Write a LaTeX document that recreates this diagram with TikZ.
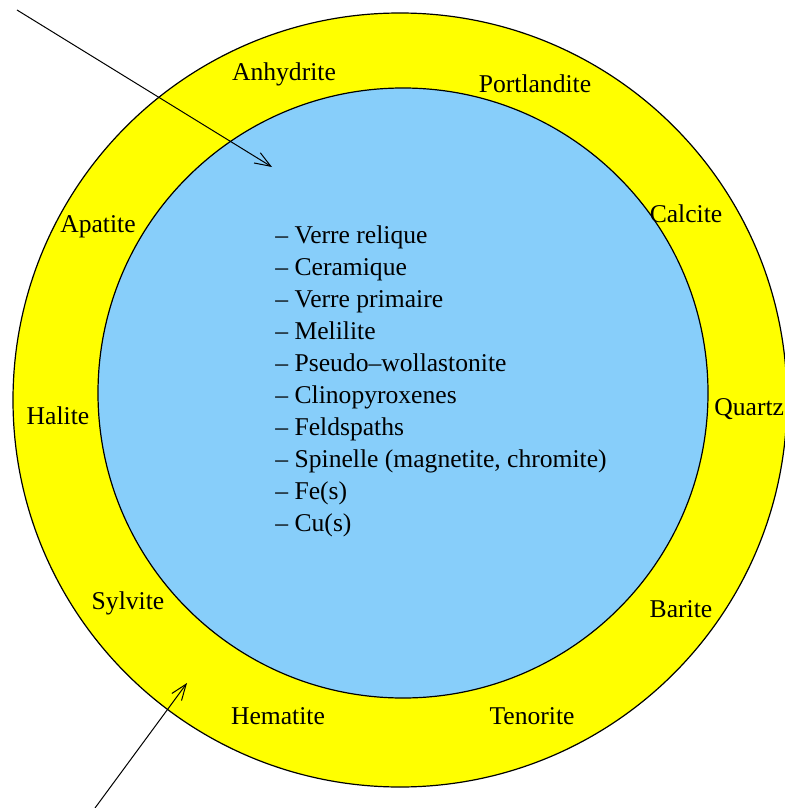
\documentclass[tikz,border=0pt]{standalone}
\usepackage{fontspec}
\setmainfont{Liberation Serif}
\usepackage{tikz}
\usetikzlibrary{arrows.meta}
\usepackage{xcolor}
\definecolor{ringyellow}{HTML}{FFFF00}
\definecolor{coreblue}{HTML}{87CEFA}
\tikzset{
  ring/.style={circle, draw=black, fill=ringyellow, line width=0.6pt, inner sep=0pt},
  core/.style={circle, draw=black, fill=coreblue, line width=0.6pt, inner sep=0pt},
  phase/.style={font=\fontsize{12.8}{16}\selectfont, inner sep=0pt, anchor=base},
  item/.style={font=\fontsize{12.8}{16}\selectfont, inner sep=0pt, anchor=base west},
  pointer/.style={-{Straight Barb[length=8pt,width=6pt]}, line width=0.5pt},
}
\begin{document}
\begin{tikzpicture}[x=0.5pt, y=-0.5pt]
\useasboundingbox (0,0) rectangle (784,808);

% outer and inner zones
\node[ring, minimum size=387pt] (outer) at (400,400) {};
\node[core, minimum size=305pt] (inner) at (403,393) {};

% phases of the outer zone
\node[phase] (anhy) at (284,81) {Anhydrite};
\node[phase] (port) at (535,93) {Portlandite};
\node[phase] (calc) at (686,222) {Calcite};
\node[phase] (apat) at (98,232) {Apatite};
\node[phase] (hali) at (58,424) {Halite};
\node[phase, anchor=base west] (quar) at (714,415) {Quartz};
\node[phase] (sylv) at (128,609) {Sylvite};
\node[phase] (bari) at (681,617) {Barite};
\node[phase] (hema) at (278,724) {Hematite};
\node[phase] (teno) at (532,724) {Tenorite};

% phases of the inner zone
\foreach \txt [count=\i] in {Verre relique, Ceramique, Verre primaire, Melilite,
  Pseudo–wollastonite, Clinopyroxenes, Feldspaths,
  {Spinelle (magnetite, chromite)}, Fe(s), Cu(s)}
  \node[item] (m\i) at (275,{243+32*(\i-1)}) {– \txt};

% pointers
\coordinate (topstart) at (17,10);
\coordinate (toptip) at (272,167);
\coordinate (botstart) at (95,808);
\coordinate (bottip) at (187,683);
\draw[pointer] (topstart) -- (toptip);
\draw[pointer] (botstart) -- (bottip);
\end{tikzpicture}
\end{document}
